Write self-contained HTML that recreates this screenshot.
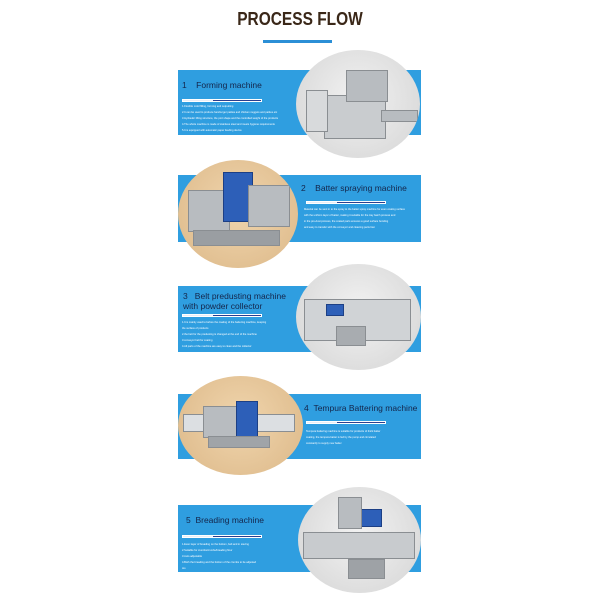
<!DOCTYPE html>
<html><head><meta charset="utf-8"><style>
body{margin:0;width:600px;height:600px;background:#fff;position:relative;overflow:hidden;font-family:"Liberation Sans",sans-serif}
.t{position:absolute;left:0;width:600px;top:9px;text-align:center;font-weight:bold;font-size:18px;color:#3a2718;transform:scaleX(0.86)}
.ul{position:absolute;left:263px;top:40px;width:69px;height:3px;background:#2b8fd6}
.band{position:absolute;left:178px;width:243px;background:#2f9ee0}
.circ{position:absolute;border-radius:50%;overflow:hidden}
.g{background:radial-gradient(circle at 50% 45%,#f2f2f2,#d4d4d4)}
.tan{background:radial-gradient(circle at 50% 45%,#f0d5ad,#dcb888)}
.h{position:absolute;color:#14254a;font-size:8.5px;line-height:10px}
.bar{position:absolute;height:3px;width:80px;background:#2a3f8f;border:1px solid #fff;box-sizing:border-box}
.bar i{display:block;width:38%;height:100%;background:#e8eef8}
.tx{position:absolute;font-size:2.6px;line-height:6px;color:#fff}
.m{position:absolute;background:#b8bcc0;border:1px solid #8a8e92}
.p{position:absolute;background:#2d5fb8;border:1px solid #1c3f85}
</style></head><body>
<div class="t">PROCESS FLOW</div>
<div class="ul"></div>

<div class="band" style="top:70px;height:65px"></div>
<div class="h" style="left:182px;top:80px">1&nbsp;&nbsp;&nbsp;&nbsp;Forming machine</div>
<div class="bar" style="left:182px;top:99px"><i></i></div>
<div class="tx" style="left:182px;top:104px;width:105px">1.Flexible mold filling, forming and outputting<br>2.It can be used to produce hamburger patties and chicken nuggets and patties etc<br>3.Hydraulic lifting structure, the port shape and the controlled weight of the products<br>4.The whole machine is made of stainless steel and meets hygiene requirements<br>5.It is equipped with automatic paper feeding device</div>
<div class="circ g" style="left:296px;top:50px;width:124px;height:108px">
<div class="m" style="left:28px;top:45px;width:60px;height:42px;background:#c9cccf"></div>
<div class="m" style="left:50px;top:20px;width:40px;height:30px"></div>
<div class="m" style="left:10px;top:40px;width:20px;height:40px;background:#d8dadc"></div>
<div class="m" style="left:85px;top:60px;width:35px;height:10px"></div></div>

<div class="band" style="top:175px;height:67px"></div>
<div class="h" style="left:301px;top:183px">2&nbsp;&nbsp;&nbsp;&nbsp;Batter spraying machine</div>
<div class="bar" style="left:306px;top:201px"><i></i></div>
<div class="tx" style="left:304px;top:207px;width:112px">Material can be sent in to the spray to the batter spray machine for even coating surface<br>with the uniform layer of batter, making it suitable for the tray batch process and<br>in the pre-dust process, the coated parts ensures a good surface bonding<br>and easy to transfer with the conveyor and cleaning parts fast</div>
<div class="circ tan" style="left:178px;top:160px;width:120px;height:108px">
<div class="m" style="left:10px;top:30px;width:40px;height:40px"></div>
<div class="p" style="left:45px;top:12px;width:28px;height:48px"></div>
<div class="m" style="left:15px;top:70px;width:85px;height:14px;background:#9a9ea2"></div>
<div class="m" style="left:70px;top:25px;width:40px;height:40px"></div></div>

<div class="band" style="top:286px;height:66px"></div>
<div class="h" style="left:183px;top:291px">3&nbsp;&nbsp;&nbsp;Belt predusting machine<br>with powder collector</div>
<div class="bar" style="left:182px;top:314px"><i></i></div>
<div class="tx" style="left:182px;top:320px;width:110px">1.It is mainly used to before the coating of the battering machine, keeping<br>the surface of products<br>2.the belt for the predusting is changed at the end of the machine<br>3.conveyor belt for coating<br>4.All parts of the machine are easy to clean and the collector</div>
<div class="circ g" style="left:296px;top:264px;width:125px;height:106px">
<div class="m" style="left:8px;top:35px;width:105px;height:40px;background:#d0d3d6"></div>
<div class="p" style="left:30px;top:40px;width:16px;height:10px"></div>
<div class="m" style="left:40px;top:62px;width:28px;height:18px;background:#a8acb0"></div></div>

<div class="band" style="top:394px;height:65px"></div>
<div class="h" style="left:304px;top:403px">4&nbsp;&nbsp;Tempura Battering machine</div>
<div class="bar" style="left:306px;top:421px"><i></i></div>
<div class="tx" style="left:306px;top:429px;width:112px">Tempura battering machine is suitable for products of thick batter<br>coating, the tempura batter is fed by the pump and circulated<br>constantly to supply new batter</div>
<div class="circ tan" style="left:178px;top:376px;width:125px;height:99px">
<div class="m" style="left:5px;top:38px;width:110px;height:16px;background:#dcdfe2"></div>
<div class="m" style="left:25px;top:30px;width:40px;height:30px"></div>
<div class="p" style="left:58px;top:25px;width:20px;height:35px"></div>
<div class="m" style="left:30px;top:60px;width:60px;height:10px;background:#a0a4a8"></div></div>

<div class="band" style="top:505px;height:67px"></div>
<div class="h" style="left:186px;top:515px">5&nbsp;&nbsp;Breading machine</div>
<div class="bar" style="left:182px;top:535px"><i></i></div>
<div class="tx" style="left:182px;top:542px;width:115px">1.Even layer of breading on the bottom, belt and in sieving<br>2.Suitable for crumbs/crumbs/breading flour<br>3.Auto adjustable<br>4.Both the breading and the bottom of the crumbs to be adjusted<br>too</div>
<div class="circ g" style="left:298px;top:487px;width:123px;height:106px">
<div class="m" style="left:5px;top:45px;width:110px;height:25px;background:#c8cbce"></div>
<div class="p" style="left:62px;top:22px;width:20px;height:16px"></div>
<div class="m" style="left:40px;top:10px;width:22px;height:30px"></div>
<div class="m" style="left:50px;top:72px;width:35px;height:18px;background:#9ea2a6"></div></div>
</body></html>
